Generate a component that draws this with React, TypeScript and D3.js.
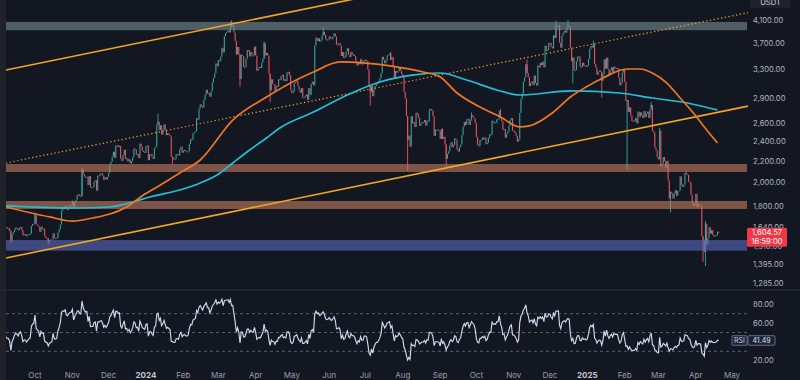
import React, { useMemo } from "react";
import * as d3 from "d3";

// ---- Daily closes (ETH/USDT) ----
const aug23 = [1683, 1667, 1634, 1684, 1654, 1649, 1645, 1657, 1653, 1729, 1705, 1646];
const sep23 = [1628, 1635, 1637, 1630, 1633, 1636, 1644, 1635, 1635, 1617, 1548, 1592, 1607, 1626, 1641, 1634, 1622, 1638, 1645, 1622, 1585, 1593, 1593, 1581, 1587, 1594, 1597, 1652, 1667, 1671];
const oct23 = [1733, 1663, 1656, 1647, 1611, 1646, 1633, 1633, 1579, 1567, 1566, 1539, 1552, 1555, 1558, 1600, 1566, 1564, 1567, 1605, 1628, 1663, 1767, 1787, 1785, 1805, 1779, 1776, 1798, 1811, 1814];
const nov23 = [1847, 1796, 1833, 1856, 1894, 1900, 1887, 1885, 2120, 2077, 2054, 2045, 2054, 1980, 2059, 1961, 1962, 1963, 2012, 2022, 1932, 2064, 2062, 2081, 2085, 2064, 2026, 2048, 2028, 2053];
const dec23 = [2088, 2166, 2193, 2243, 2293, 2232, 2358, 2359, 2340, 2352, 2225, 2203, 2260, 2314, 2220, 2227, 2196, 2218, 2178, 2199, 2241, 2326, 2314, 2264, 2271, 2230, 2377, 2345, 2301, 2292, 2282];
const jan24 = [2352, 2356, 2209, 2268, 2268, 2241, 2222, 2330, 2344, 2584, 2617, 2524, 2576, 2472, 2510, 2587, 2529, 2467, 2489, 2470, 2454, 2242, 2236, 2218, 2219, 2267, 2268, 2256, 2317, 2344, 2283];
const feb24 = [2304, 2310, 2296, 2290, 2299, 2373, 2423, 2419, 2487, 2502, 2508, 2659, 2641, 2776, 2825, 2804, 2786, 2880, 2945, 3012, 2967, 2972, 2923, 2993, 3112, 3174, 3244, 3385, 3342];
const mar24 = [3433, 3421, 3487, 3627, 3553, 3817, 3871, 3889, 3914, 3880, 4067, 3983, 4006, 3879, 3738, 3518, 3640, 3522, 3160, 3516, 3495, 3330, 3330, 3454, 3590, 3588, 3491, 3559, 3508, 3507, 3645];
const apr24 = [3505, 3278, 3313, 3332, 3318, 3394, 3455, 3700, 3507, 3546, 3506, 3237, 3006, 3157, 3095, 3085, 2985, 3066, 3057, 3156, 3148, 3200, 3219, 3137, 3156, 3131, 3255, 3263, 3215, 3015];
const may24 = [2970, 2990, 3103, 3117, 3137, 3064, 3007, 2975, 3037, 2911, 2912, 2930, 2951, 2883, 3036, 2947, 3093, 3122, 3072, 3664, 3793, 3738, 3781, 3727, 3749, 3827, 3891, 3842, 3768, 3749, 3760];
const jun24 = [3813, 3781, 3767, 3811, 3864, 3812, 3679, 3681, 3705, 3664, 3498, 3560, 3469, 3482, 3567, 3621, 3512, 3482, 3560, 3516, 3519, 3497, 3420, 3354, 3396, 3372, 3449, 3380, 3379, 3434];
const jul24 = [3440, 3421, 3295, 3062, 2986, 3070, 2929, 3017, 3065, 3102, 3100, 3132, 3175, 3246, 3486, 3443, 3387, 3428, 3504, 3517, 3536, 3439, 3481, 3336, 3173, 3275, 3249, 3270, 3321, 3279, 3231];
const aug24 = [3202, 2987, 2901, 2686, 2417, 2462, 2345, 2682, 2599, 2611, 2556, 2723, 2703, 2665, 2570, 2593, 2612, 2612, 2637, 2573, 2630, 2620, 2765, 2769, 2748, 2681, 2458, 2528, 2528, 2526, 2514];
const sep24 = [2425, 2538, 2426, 2449, 2367, 2223, 2272, 2297, 2359, 2389, 2339, 2362, 2433, 2418, 2315, 2295, 2340, 2368, 2466, 2561, 2615, 2580, 2646, 2653, 2581, 2633, 2696, 2676, 2657, 2603];
const oct24 = [2447, 2363, 2349, 2414, 2414, 2440, 2422, 2440, 2370, 2385, 2439, 2475, 2471, 2629, 2607, 2610, 2605, 2647, 2647, 2747, 2666, 2622, 2526, 2535, 2439, 2479, 2507, 2569, 2638, 2660, 2518];
const nov24 = [2512, 2492, 2460, 2398, 2423, 2721, 2895, 2963, 3125, 3183, 3372, 3244, 3187, 3063, 3108, 3129, 3075, 3209, 3106, 3071, 3354, 3326, 3393, 3361, 3414, 3326, 3660, 3577, 3592, 3706];
const dec24 = [3705, 3646, 3617, 3834, 3787, 3997, 3998, 4004, 3710, 3629, 3830, 3879, 3908, 3878, 3962, 4003, 3982, 3628, 3418, 3473, 3282, 3286, 3418, 3491, 3488, 3335, 3332, 3395, 3352, 3359, 3333];
const jan25 = [3352, 3451, 3609, 3656, 3632, 3687, 3379, 3326, 3218, 3264, 3281, 3263, 3136, 3228, 3448, 3307, 3473, 3305, 3216, 3282, 3330, 3244, 3338, 3310, 3317, 3307, 3180, 3076, 3110, 3250, 3300];
const feb25 = [3122, 2869, 2881, 2732, 2789, 2690, 2625, 2631, 2628, 2660, 2600, 2737, 2675, 2728, 2693, 2663, 2743, 2674, 2713, 2737, 2662, 2764, 2818, 2515, 2494, 2336, 2307, 2237];
const mar25 = [2218, 2517, 2150, 2173, 2241, 2201, 2139, 2203, 2020, 1865, 1922, 1908, 1865, 1911, 1935, 1888, 1926, 1931, 2057, 1983, 1965, 1983, 2087, 2079, 2071, 2009, 2003, 1896, 1826, 1806, 1822];
const apr25 = [1904, 1795, 1817, 1816, 1806, 1578, 1555, 1473, 1669, 1523, 1566, 1644, 1597, 1623, 1588, 1577, 1583, 1588, 1612, 1604.57];

const monthBlocks: [string, number[]][] = [
  ["2023-08-20", aug23], ["2023-09-01", sep23], ["2023-10-01", oct23], ["2023-11-01", nov23],
  ["2023-12-01", dec23], ["2024-01-01", jan24], ["2024-02-01", feb24], ["2024-03-01", mar24],
  ["2024-04-01", apr24], ["2024-05-01", may24], ["2024-06-01", jun24], ["2024-07-01", jul24],
  ["2024-08-01", aug24], ["2024-09-01", sep24], ["2024-10-01", oct24], ["2024-11-01", nov24],
  ["2024-12-01", dec24], ["2025-01-01", jan25], ["2025-02-01", feb25], ["2025-03-01", mar25],
  ["2025-04-01", apr25],
];

// notable wicks
const wickHighs: [string, number][] = [
  ["2023-10-01", 1752], ["2023-11-09", 2137], ["2024-01-11", 2717], ["2024-03-12", 4093],
  ["2024-04-08", 3730], ["2024-05-27", 3977], ["2024-07-22", 3563], ["2024-09-27", 2728],
  ["2024-10-21", 2769], ["2024-11-12", 3446], ["2024-12-06", 4090], ["2024-12-16", 4107],
  ["2025-01-06", 3745], ["2025-02-23", 2855], ["2025-03-02", 2550], ["2025-03-24", 2104],
  ["2025-04-09", 1690],
];
const wickLows: [string, number][] = [
  ["2023-09-11", 1531], ["2023-10-12", 1521], ["2024-01-23", 2168], ["2024-03-19", 3056],
  ["2024-04-13", 2852], ["2024-07-05", 2810], ["2024-08-05", 2111], ["2024-09-06", 2150],
  ["2024-12-20", 3100], ["2025-01-13", 2909], ["2025-02-03", 2120], ["2025-03-11", 1754],
  ["2025-04-07", 1411], ["2025-04-09", 1385],
];

// moving averages (orange / cyan)
const maOrange: [string, number][] = [
  ["2023-09-07", 1797], ["2023-10-13", 1720], ["2023-11-01", 1689], ["2023-11-18", 1712],
  ["2023-12-02", 1742], ["2023-12-16", 1797], ["2023-12-30", 1895], ["2024-01-13", 1980],
  ["2024-01-29", 2088], ["2024-02-15", 2211], ["2024-03-13", 2637], ["2024-04-10", 2919],
  ["2024-05-08", 3175], ["2024-05-19", 3260], ["2024-06-10", 3407], ["2024-06-29", 3392],
  ["2024-07-27", 3333], ["2024-08-18", 3260], ["2024-09-01", 3189], ["2024-09-15", 2971],
  ["2024-10-04", 2793], ["2024-10-21", 2673], ["2024-11-06", 2558], ["2024-11-14", 2570],
  ["2024-12-03", 2720], ["2024-12-18", 2919], ["2024-12-31", 3051], ["2025-01-14", 3175],
  ["2025-02-03", 3303], ["2025-02-14", 3303], ["2025-02-24", 3245], ["2025-03-08", 3105],
  ["2025-03-19", 2906], ["2025-03-30", 2720], ["2025-04-10", 2524], ["2025-04-19", 2383],
];
const maCyan: [string, number][] = [
  ["2023-09-07", 1805], ["2023-09-29", 1797], ["2023-11-05", 1789], ["2023-12-02", 1797],
  ["2023-12-21", 1837], ["2024-01-04", 1878], ["2024-01-29", 1937], ["2024-02-15", 1998],
  ["2024-02-29", 2069], ["2024-03-13", 2182], ["2024-03-27", 2311], ["2024-04-10", 2436],
  ["2024-04-21", 2546], ["2024-05-19", 2732], ["2024-06-16", 2945], ["2024-07-13", 3119],
  ["2024-08-09", 3216], ["2024-09-01", 3245], ["2024-09-23", 3147], ["2024-10-18", 3011],
  ["2024-11-06", 2945], ["2024-12-18", 2998], ["2025-01-28", 2971], ["2025-02-24", 2906],
  ["2025-03-25", 2843], ["2025-04-19", 2756],
];

// trend channel anchors
const upperChannel: [string, number][] = [["2023-09-07", 3289], ["2024-05-08", 4285]];
const middleChannel: [string, number][] = [["2023-09-07", 2182], ["2025-05-14", 4234]];
const lowerChannel: [string, number][] = [["2023-09-07", 1435], ["2025-05-13", 2800]];

// horizontal zones [low, high]
const zoneTop = [3920, 4065];
const zoneResistance = [2097, 2172];
const zoneMid = [1781, 1845];
const zoneSupport = [1482, 1553];

const priceTicks = [4100, 3700, 3300, 2900, 2600, 2400, 2200, 2000, 1800, 1640, 1510, 1395, 1285];
const rsiTicks = [80, 60, 20];
const rsiGuides = [70, 50, 30];
const rsiLast = 41.49;
const countdown = "16:59:00";
const quoteCurrency = "USDT";

const W = 800, H = 380;
const PL = 6, PR = 748, MT = 0, MB = 289, RT = 291, RB = 366;
const FONT = "Inter, 'Noto Sans', sans-serif";
const UP = "#2ea99a", DOWN = "#ea5366";

const parse = d3.utcParse("%Y-%m-%d");

export default function App() {
  const x = d3.scaleUtc().domain([parse("2023-10-01")!, parse("2025-05-01")!]).range([35, 732]);
  const y = d3.scaleLog().domain([1285, 4100]).range([283, 20]);
  const yr = d3.scaleLinear().domain([20, 80]).range([360.7, 304.3]);

  const candles = useMemo(() => {
    const out: { date: Date; open: number; close: number }[] = [];
    monthBlocks.forEach(([start, vals]) => {
      const s = parse(start)!;
      vals.forEach((v, i) => out.push({ date: d3.utcDay.offset(s, i), open: 0, close: v }));
    });
    out.forEach((c, i) => (c.open = i === 0 ? c.close : out[i - 1].close));
    return out;
  }, []);

  const rsi = useMemo(() => {
    const n = 14;
    const res: { date: Date; v: number }[] = [];
    let ag = 0, al = 0;
    for (let i = 1; i < candles.length; i++) {
      const d = candles[i].close - candles[i - 1].close;
      const g = Math.max(d, 0), l = Math.max(-d, 0);
      if (i <= n) {
        ag += g / n; al += l / n;
      } else {
        ag = (ag * (n - 1) + g) / n; al = (al * (n - 1) + l) / n;
      }
      if (i >= n) res.push({ date: candles[i].date, v: al === 0 ? 100 : 100 - 100 / (1 + ag / al) });
    }
    return res;
  }, [candles]);

  const highMap = new Map(wickHighs.map(([d, v]) => [d, v]));
  const lowMap = new Map(wickLows.map(([d, v]) => [d, v]));
  const fmtDay = d3.utcFormat("%Y-%m-%d");

  const maLine = d3.line<[string, number]>().x((d) => x(parse(d[0])!)).y((d) => y(d[1])).curve(d3.curveMonotoneX);
  const rsiLine = d3.line<{ date: Date; v: number }>().x((d) => x(d.date)).y((d) => yr(d.v));

  const channel = (pts: [string, number][]) => {
    const x1 = x(parse(pts[0][0])!), y1 = y(pts[0][1]);
    const x2 = x(parse(pts[1][0])!), y2 = y(pts[1][1]);
    const k = (y2 - y1) / (x2 - x1);
    return { x1: PL, y1: y1 + k * (PL - x1), x2: PR, y2: y1 + k * (PR - x1) };
  };
  const up = channel(upperChannel), mid = channel(middleChannel), lo = channel(lowerChannel);

  const zones: [number[], string][] = [
    [zoneTop, "rgba(114,138,142,0.62)"],
    [zoneResistance, "rgba(190,124,96,0.62)"],
    [zoneMid, "rgba(190,124,96,0.62)"],
    [zoneSupport, "rgba(90,105,188,0.62)"],
  ];

  const months = d3.utcMonths(parse("2023-10-01")!, parse("2025-05-02")!);
  const fmtNum = d3.format(",.2f");
  const last = candles[candles.length - 1];
  const lastY = y(last.close);
  const rsiY = yr(rsiLast);

  return (
    <div style={{ position: "absolute", left: 0, top: 0 }}>
      <svg width={W} height={H} style={{ display: "block" }} fontFamily={FONT}>
        <defs>
          <clipPath id="mainClip"><rect x={PL} y={MT} width={PR - PL} height={MB - MT} /></clipPath>
          <clipPath id="rsiClip"><rect x={PL} y={RT} width={PR - PL} height={RB - RT} /></clipPath>
        </defs>
        <rect width={W} height={H} fill="#131722" />
        <rect x={0} y={0} width={PL} height={H} fill="#1f2229" />
        <line x1={0} x2={W} y1={290} y2={290} stroke="#2a2e39" strokeWidth={1.2} />

        <g clipPath="url(#mainClip)">
          {candles.map((c, i) => {
            const cx = x(c.date);
            const col = c.close >= c.open ? UP : DOWN;
            const top = y(Math.max(c.open, c.close));
            const bot = y(Math.min(c.open, c.close));
            const key = fmtDay(c.date);
            const hi = highMap.get(key), lw = lowMap.get(key);
            return (
              <g key={i}>
                {(hi !== undefined || lw !== undefined) && (
                  <line x1={cx} x2={cx} y1={hi !== undefined ? y(hi) : top} y2={lw !== undefined ? y(lw) : bot} stroke={col} strokeWidth={0.9} />
                )}
                <rect x={cx - 0.55} y={top} width={1.1} height={Math.max(bot - top, 1)} fill={col} />
              </g>
            );
          })}
          {zones.map(([z, col], i) => (
            <rect key={i} x={PL} width={PR - PL - 1} y={y(z[1])} height={y(z[0]) - y(z[1])} fill={col} />
          ))}
          <line {...up} stroke="#f5a623" strokeWidth={1.6} />
          <line {...lo} stroke="#f5a623" strokeWidth={1.6} />
          <line {...mid} stroke="#eba23a" strokeWidth={1.2} strokeDasharray="1.3 2.5" />
          <path d={maLine(maCyan)!} fill="none" stroke="#22c0d8" strokeWidth={1.7} />
          <path d={maLine(maOrange)!} fill="none" stroke="#f07624" strokeWidth={1.7} />
        </g>

        <g clipPath="url(#rsiClip)">
          {rsiGuides.map((g) => (
            <line key={g} x1={PL} x2={PR} y1={yr(g)} y2={yr(g)} stroke="#6b7080" strokeWidth={0.8} strokeDasharray="3 3" />
          ))}
          <path d={rsiLine(rsi)!} fill="none" stroke="#cfd9ee" strokeWidth={1.15} />
        </g>

        {/* price axis */}
        {priceTicks.map((t) => (
          <text key={t} x={753} y={y(t)} dy="0.35em" fontSize={7.6} fill="#b2b5be">{fmtNum(t)}</text>
        ))}
        <rect x={750} y={-4} width={41} height={12} rx={1.5} fill="#1e222d" />
        <text x={770.5} y={5} textAnchor="middle" fontSize={7.6} fill="#d1d4dc">{quoteCurrency}</text>
        <rect x={747} y={lastY - 5} width={40} height={19} rx={1.5} fill="#f23645" />
        <text x={767} y={lastY} dy="0.35em" textAnchor="middle" fontSize={7.6} fill="#ffffff">{fmtNum(last.close)}</text>
        <text x={767} y={lastY + 9} dy="0.35em" textAnchor="middle" fontSize={7.6} fill="#ffffff">{countdown}</text>

        {/* rsi axis */}
        {rsiTicks.map((t) => (
          <text key={t} x={753} y={yr(t)} dy="0.35em" fontSize={7.6} fill="#b2b5be">{fmtNum(t)}</text>
        ))}
        <rect x={732} y={rsiY - 4.8} width={15} height={9.6} rx={1} fill="#1c2230" stroke="#7d8fb5" strokeWidth={0.7} />
        <text x={739.5} y={rsiY} dy="0.35em" textAnchor="middle" fontSize={7} fill="#c8d3ea">RSI</text>
        <rect x={748} y={rsiY - 4.8} width={27} height={9.6} rx={1} fill="#1c2230" stroke="#7d8fb5" strokeWidth={0.7} />
        <text x={761.5} y={rsiY} dy="0.35em" textAnchor="middle" fontSize={7} fill="#dbe3f3">{rsiLast.toFixed(2)}</text>

        {/* time axis */}
        {months.map((m) => {
          const isYear = m.getUTCMonth() === 0;
          return (
            <text key={+m} x={x(m)} y={375.5} dy="0.35em" textAnchor="middle" fontSize={8}
              fontWeight={isYear ? 700 : 400} fill={isYear ? "#c3c6ce" : "#9a9ea8"}>
              {isYear ? d3.utcFormat("%Y")(m) : d3.utcFormat("%b")(m)}
            </text>
          );
        })}
      </svg>
    </div>
  );
}
